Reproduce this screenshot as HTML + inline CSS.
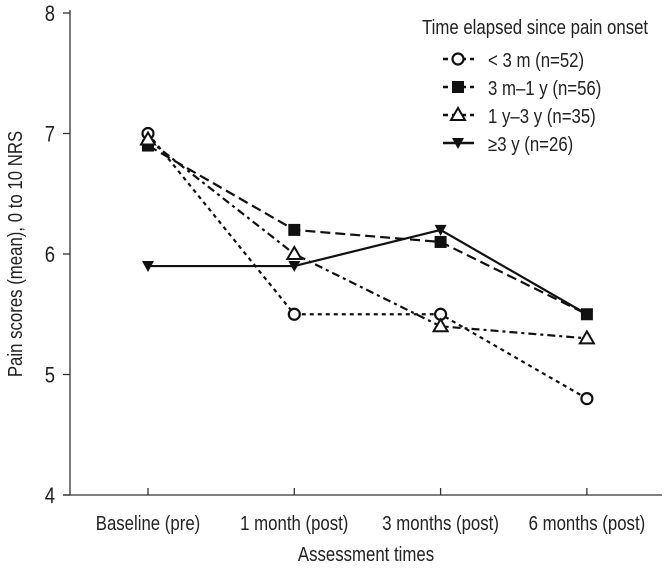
<!DOCTYPE html>
<html><head><meta charset="utf-8"><style>
body{margin:0;background:#fff}
svg text{font-family:"Liberation Sans",sans-serif;fill:#222}
</style></head><body>
<svg id="c" width="667" height="568"></svg>
<script>
const categories=["Baseline (pre)","1 month (post)","3 months (post)","6 months (post)"];
const yTicks=[4,5,6,7,8];
const seriesLt3m=[7.0,5.5,5.5,4.8];
const series3m1y=[6.9,6.2,6.1,5.5];
const series1y3y=[6.95,6.0,5.4,5.3];
const seriesGe3y=[5.9,5.9,6.2,5.5];
const labels=["< 3 m (n=52)","3 m\u20131 y (n=56)","1 y\u20133 y (n=35)","\u22653 y (n=26)"];
const NS="http://www.w3.org/2000/svg",svg=document.getElementById('c');
const SX=0.84;
function X(i){return 148+i*146.3}
function Y(v){return 495-(v-4)*120.5}
function el(t,a,p){const e=document.createElementNS(NS,t);for(const k in a)e.setAttribute(k,a[k]);(p||svg).appendChild(e);return e}
function txt(x,y,s,size,anchor,p){const t=el('text',{x:x/SX,y:y,'font-size':size,'text-anchor':anchor||'start',transform:`scale(${SX},1)`},p);t.textContent=s;return t}
let ax=el('line',{x1:70,y1:10,x2:70,y2:495,stroke:'#333','stroke-width':1.3});


let bx=el('line',{x1:63,y1:495,x2:662,y2:495,stroke:'#333','stroke-width':1.3});


yTicks.forEach(v=>{
 const t=el('line',{x1:63,y1:Y(v),x2:70,y2:Y(v),stroke:'#333','stroke-width':1.3});
 
 
 const l=txt(55,Y(v)+8,String(v),22,'end');
 
 
});
categories.forEach((c,i)=>{
 const t=el('line',{x1:X(i),y1:495,x2:X(i),y2:488,stroke:'#333','stroke-width':1.3});
 
 
 const l=txt(X(i),530,c,20,'middle');
 
 
});
let xt=txt(366,561,"Assessment times",20,'middle');


let yt=el('text',{x:0,y:0,'font-size':20,'text-anchor':'middle',transform:`translate(22,254) rotate(-90) scale(${SX},1)`});yt.textContent="Pain scores (mean), 0 to 10 NRS";


const S=[
 {d:seriesLt3m,dash:'4 4',m:'circle',name:'series-lt-3m'},
 {d:series3m1y,dash:'10 5',m:'square',name:'series-3m-1y'},
 {d:series1y3y,dash:'8 4 3 4',m:'tri',name:'series-1y-3y'},
 {d:seriesGe3y,dash:'',m:'dtri',name:'series-ge-3y'}];
function marker(m,x,y,g){
 if(m==='circle')return el('circle',{cx:x,cy:y,r:5.5,fill:'#fff',stroke:'#111','stroke-width':2.2},g);
 if(m==='square')return el('rect',{x:x-6,y:y-6,width:12,height:12,fill:'#111'},g);
 if(m==='tri')return el('polygon',{points:`${x},${y-7} ${x+7},${y+5} ${x-7},${y+5}`,fill:'#fff',stroke:'#111','stroke-width':2},g);
 return el('polygon',{points:`${x-6},${y-5} ${x+6},${y-5} ${x},${y+6}`,fill:'#111'},g);
}
S.forEach((s,k)=>{
 const g=el('g',{});
 
 
 const p=el('polyline',{points:s.d.map((v,i)=>X(i)+','+Y(v)).join(' '),fill:'none',stroke:'#111','stroke-width':2.2,'stroke-dasharray':s.dash},g);
 
 
 s.d.forEach((v,i)=>{const m=marker(s.m,X(i),Y(v),g);
  
  });
 const ly=59+k*28;
 const lg=el('g',{});
 
 
 el('line',{x1:443,y1:ly,x2:474,y2:ly,stroke:'#111','stroke-width':2.5,'stroke-dasharray':s.dash?'5 4':''},lg);
 marker(s.m,458,ly,lg);
 txt(488,ly+8,labels[k],20,'start',lg);
});
let lt=txt(422,34,"Time elapsed since pain onset",20);


</script>
</body></html>
